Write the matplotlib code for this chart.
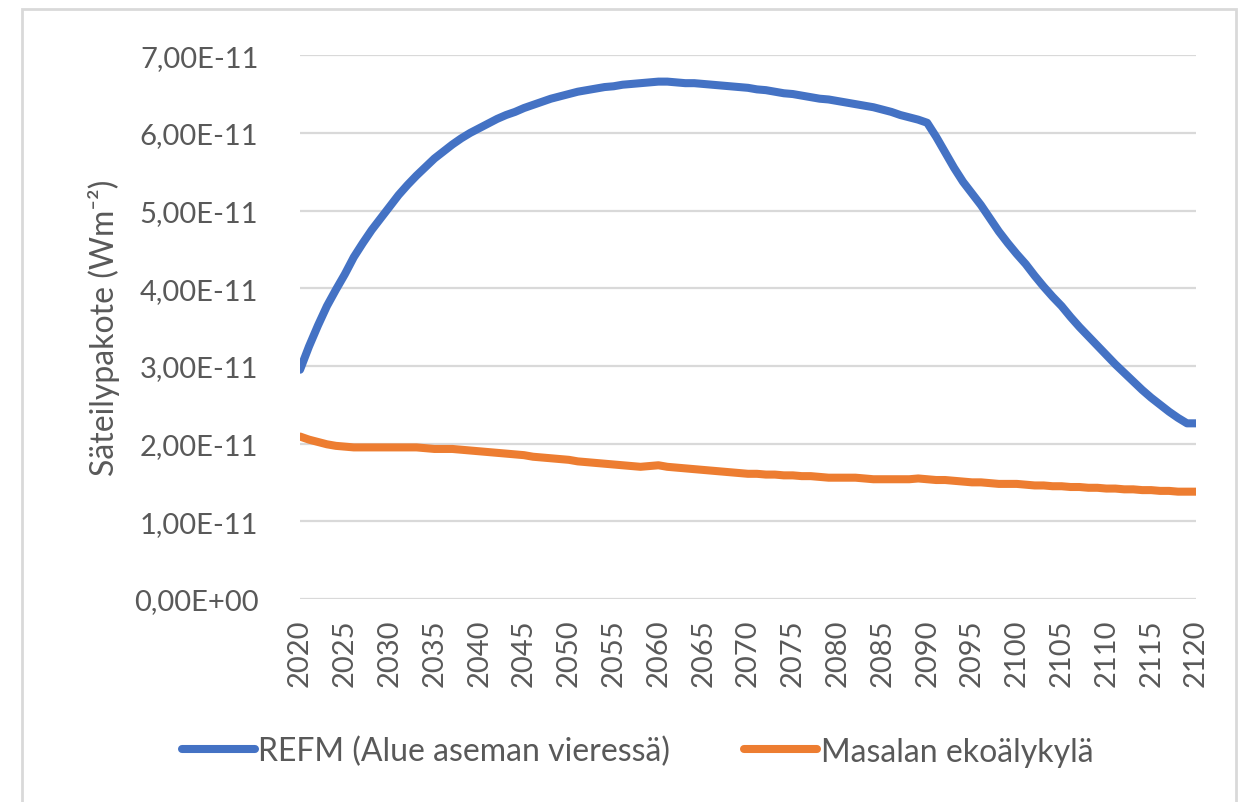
import matplotlib
matplotlib.use("Agg")
import matplotlib.pyplot as plt
from matplotlib.patches import Rectangle

# ── Data (Wm^-2, in units of 1e-11) ─────────────────────────────────────────
years = list(range(2020, 2121))

refm = [2.95, 3.25, 3.52, 3.77, 3.98, 4.18, 4.40, 4.58, 4.75, 4.90,
        5.05, 5.20, 5.33, 5.45, 5.56, 5.67, 5.76, 5.85, 5.93, 6.00,
        6.06, 6.12, 6.18, 6.23, 6.27, 6.32, 6.36, 6.40, 6.44, 6.47,
        6.50, 6.53, 6.55, 6.57, 6.59, 6.60, 6.62, 6.63, 6.64, 6.65,
        6.66, 6.66, 6.65, 6.64, 6.64, 6.63, 6.62, 6.61, 6.60, 6.59,
        6.58, 6.56, 6.55, 6.53, 6.51, 6.50, 6.48, 6.46, 6.44, 6.43,
        6.41, 6.39, 6.37, 6.35, 6.33, 6.30, 6.27, 6.23, 6.20, 6.17,
        6.13, 5.95, 5.75, 5.55, 5.37, 5.22, 5.07, 4.90, 4.73, 4.58,
        4.44, 4.31, 4.16, 4.02, 3.89, 3.77, 3.63, 3.50, 3.38, 3.26,
        3.14, 3.02, 2.91, 2.80, 2.69, 2.59, 2.50, 2.41, 2.33, 2.26,
        2.26]

masala = [2.09, 2.05, 2.02, 1.99, 1.97, 1.96, 1.95, 1.95, 1.95, 1.95,
          1.95, 1.95, 1.95, 1.95, 1.94, 1.93, 1.93, 1.93, 1.92, 1.91,
          1.90, 1.89, 1.88, 1.87, 1.86, 1.85, 1.83, 1.82, 1.81, 1.80,
          1.79, 1.77, 1.76, 1.75, 1.74, 1.73, 1.72, 1.71, 1.70, 1.71,
          1.72, 1.70, 1.69, 1.68, 1.67, 1.66, 1.65, 1.64, 1.63, 1.62,
          1.61, 1.61, 1.60, 1.60, 1.59, 1.59, 1.58, 1.58, 1.57, 1.56,
          1.56, 1.56, 1.56, 1.55, 1.54, 1.54, 1.54, 1.54, 1.54, 1.55,
          1.54, 1.53, 1.53, 1.52, 1.51, 1.50, 1.50, 1.49, 1.48, 1.48,
          1.48, 1.47, 1.46, 1.46, 1.45, 1.45, 1.44, 1.44, 1.43, 1.43,
          1.42, 1.42, 1.41, 1.41, 1.40, 1.40, 1.39, 1.39, 1.38, 1.38,
          1.38]

labels = ["REFM (Alue aseman vieressä)", "Masalan ekoälykylä"]
y_ticks = [0, 1, 2, 3, 4, 5, 6, 7]
y_ticklabels = ["0,00E+00", "1,00E-11", "2,00E-11", "3,00E-11",
                "4,00E-11", "5,00E-11", "6,00E-11", "7,00E-11"]
x_ticks = list(range(2020, 2121, 5))

# ── Style ───────────────────────────────────────────────────────────────────
AZUL = "#4472C4"
NARANJA = "#ED7D31"
GRIS_TXT = "#595959"
GRIS_GRID = "#D9D9D9"
plt.rcParams["font.family"] = ["Lato", "DejaVu Sans"]

fig = plt.figure(figsize=(12.45, 8.03), dpi=100)
ax = fig.add_axes([0.241, 0.253, 0.7196, 0.677])

ax.plot(years, refm, color=AZUL, lw=5.8, solid_capstyle="round", label=labels[0])
ax.plot(years, masala, color=NARANJA, lw=5.8, solid_capstyle="round", label=labels[1])

ax.set_xlim(2020, 2120)
ax.set_ylim(0, 7)
ax.set_yticks(y_ticks)
ax.set_yticklabels(y_ticklabels)
ax.set_xticks(x_ticks)
ax.set_xticklabels([str(x) for x in x_ticks], rotation=90)
ax.tick_params(axis="both", length=0, colors=GRIS_TXT, labelsize=21)
ax.tick_params(axis="y", pad=30)
ax.tick_params(axis="x", pad=14)
ax.grid(axis="y", color=GRIS_GRID, lw=1.6)
ax.set_axisbelow(True)
for s in ax.spines.values():
    s.set_visible(False)

ax.set_ylabel("Säteilypakote (Wm⁻²)", fontsize=23, color=GRIS_TXT, labelpad=10)

fig.legend(loc="center", bbox_to_anchor=(0.512, 0.063), ncol=2, frameon=False,
           fontsize=23, labelcolor=GRIS_TXT, handlelength=2.3, handletextpad=0.1,
           columnspacing=2.3)

# marco del gráfico
fig.patches.append(Rectangle((22 / 1245, -0.01), 1214 / 1245, 1 - 10 / 803 + 0.01,
                             transform=fig.transFigure, fill=False,
                             edgecolor="#D9D9D9", lw=2))

plt.savefig("out.png", dpi=100)
plt.close()
